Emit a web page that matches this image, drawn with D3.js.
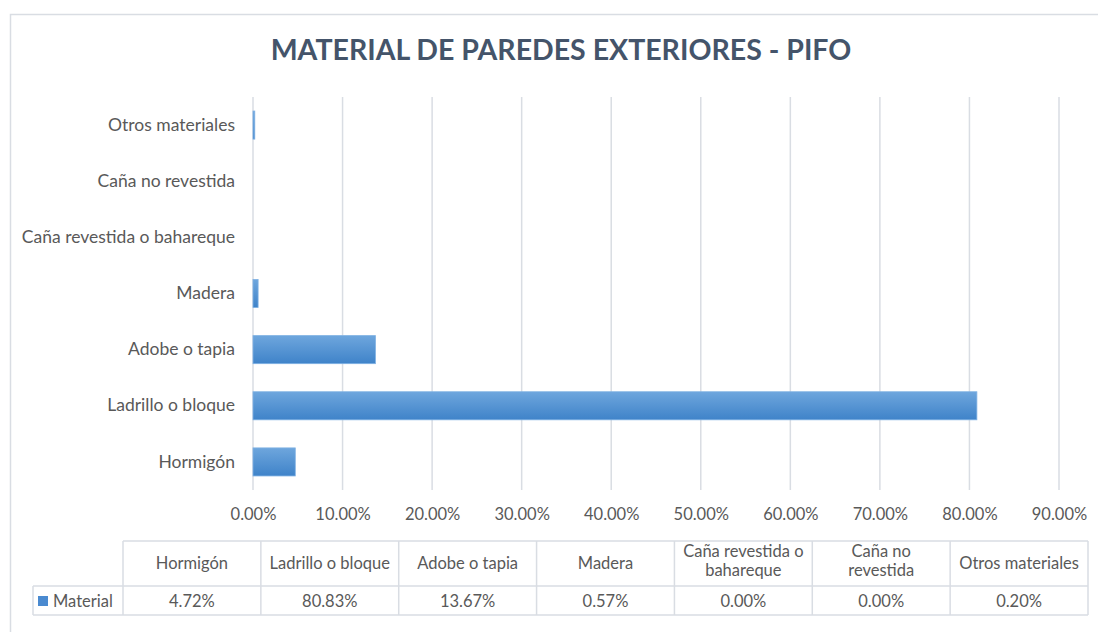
<!DOCTYPE html>
<html>
<head>
<meta charset="utf-8">
<script src="https://cdn.jsdelivr.net/npm/d3@7"></script>
<style>
  body { margin: 0; background: #fff; }
  svg { font-family: Lato, "Open Sans", sans-serif; }
</style>
</head>
<body>
<div class="chart"></div>
<script>
// Data
let categories = ["Hormigón", "Ladrillo o bloque", "Adobe o tapia", "Madera", "Caña revestida o bahareque", "Caña no revestida", "Otros materiales"];
let headerLines = [["Hormigón"], ["Ladrillo o bloque"], ["Adobe o tapia"], ["Madera"], ["Caña revestida o", "bahareque"], ["Caña no", "revestida"], ["Otros materiales"]];
let values = [4.72, 80.83, 13.67, 0.57, 0.00, 0.00, 0.20];
let xTicks = [0, 10, 20, 30, 40, 50, 60, 70, 80, 90];
let seriesName = "Material";

let svgWidth = 1098;
let svgHeight = 632;
let margin = {top: 97, left: 253, right: 1098 - 1059, bottom: 632 - 490};
let width = svgWidth - margin.left - margin.right;
let height = svgHeight - margin.top - margin.bottom;

let svg = d3.select(".chart").append("svg")
  .attr("width", svgWidth).attr("height", svgHeight);

// gradient for bars
let grad = svg.append("defs").append("linearGradient")
  .attr("id", "barGrad").attr("x1", 0).attr("y1", 0).attr("x2", 0).attr("y2", 1);
grad.append("stop").attr("offset", "0%").attr("stop-color", "#6ea6dd");
grad.append("stop").attr("offset", "100%").attr("stop-color", "#3f83c9");

// chart area border
svg.append("rect")
  .attr("x", 10.5).attr("y", 14.5)
  .attr("width", 1100).attr("height", 640)
  .attr("fill", "none").attr("stroke", "#d9dde3").attr("stroke-width", 1.5);

// title
svg.append("text")
  .attr("x", 561).attr("y", 60)
  .attr("text-anchor", "middle")
  .attr("fill", "#44546a")
  .style("font-size", "28.5px").style("font-weight", "bold")
  .text("MATERIAL DE PAREDES EXTERIORES - PIFO");

let chartGroup = svg.append("g")
  .attr("transform", `translate(${margin.left}, ${margin.top})`);

let xScale = d3.scaleLinear().domain([0, 90]).range([0, width]);
let yScale = d3.scaleBand().domain(categories.slice().reverse()).range([0, height]).paddingInner(0.5).paddingOuter(0.25);

// gridlines
chartGroup.selectAll(".grid")
  .data(xTicks)
  .enter()
  .append("line")
  .attr("x1", d => xScale(d)).attr("x2", d => xScale(d))
  .attr("y1", 0).attr("y2", height)
  .attr("stroke", "#d9dde3").attr("stroke-width", 1.5);

// x axis labels
let bottomAxis = d3.axisBottom(xScale).tickValues(xTicks).tickSize(0).tickPadding(18)
  .tickFormat(d => d.toFixed(2) + "%");
let xg = chartGroup.append("g")
  .attr("transform", `translate(0, ${height})`)
  .call(bottomAxis);
xg.select(".domain").remove();
xg.selectAll("text").attr("fill", "#595959").style("font-size", "16.5px").style("font-family", "Lato, sans-serif");

// y axis labels
let leftAxis = d3.axisLeft(yScale).tickSize(0).tickPadding(18);
let yg = chartGroup.append("g").call(leftAxis);
yg.select(".domain").remove();
yg.selectAll("text").attr("fill", "#595959").style("font-size", "17.5px").style("font-family", "Lato, sans-serif");

// bars
chartGroup.selectAll(".bar")
  .data(values)
  .enter()
  .append("rect")
  .attr("x", 0)
  .attr("y", (d, i) => yScale(categories[i]))
  .attr("width", d => xScale(d))
  .attr("height", yScale.bandwidth())
  .attr("fill", "url(#barGrad)")
  .attr("stroke", d => d > 0 ? "#7fb1e3" : "none")
  .attr("stroke-width", 0.8);

// data table
let tableLeft = 33, firstCol = 123, colW = (1088 - 123) / 7;
let rowTop = 541, headH = 45, rowH = 29;
let tbl = svg.append("g");
let lineColor = "#d9dde3";

// horizontal lines
tbl.append("line").attr("x1", firstCol).attr("x2", 1088).attr("y1", rowTop).attr("y2", rowTop).attr("stroke", lineColor).attr("stroke-width", 1.5);
tbl.append("line").attr("x1", tableLeft).attr("x2", 1088).attr("y1", rowTop + headH).attr("y2", rowTop + headH).attr("stroke", lineColor).attr("stroke-width", 1.5);
tbl.append("line").attr("x1", tableLeft).attr("x2", 1088).attr("y1", rowTop + headH + rowH).attr("y2", rowTop + headH + rowH).attr("stroke", lineColor).attr("stroke-width", 1.5);

// vertical lines
tbl.append("line").attr("x1", tableLeft).attr("x2", tableLeft).attr("y1", rowTop + headH).attr("y2", rowTop + headH + rowH).attr("stroke", lineColor).attr("stroke-width", 1.5);
tbl.selectAll(".vline")
  .data(d3.range(8))
  .enter()
  .append("line")
  .attr("x1", i => firstCol + i * colW).attr("x2", i => firstCol + i * colW)
  .attr("y1", rowTop).attr("y2", rowTop + headH + rowH)
  .attr("stroke", lineColor).attr("stroke-width", 1.5);

// header text
tbl.selectAll(".head")
  .data(headerLines)
  .enter()
  .append("text")
  .attr("x", (d, i) => firstCol + i * colW + colW / 2)
  .attr("y", d => d.length > 1 ? rowTop + 16 : rowTop + 28)
  .attr("text-anchor", "middle")
  .attr("fill", "#595959")
  .style("font-size", "16.5px")
  .each(function(d) {
    d3.select(this).selectAll("tspan").data(d).enter().append("tspan")
      .attr("x", d3.select(this).attr("x"))
      .attr("dy", (t, j) => j === 0 ? 0 : 19)
      .text(t => t);
  });

// value text
tbl.selectAll(".val")
  .data(values)
  .enter()
  .append("text")
  .attr("x", (d, i) => firstCol + i * colW + colW / 2)
  .attr("y", rowTop + headH + 21)
  .attr("text-anchor", "middle")
  .attr("fill", "#595959")
  .style("font-size", "16.5px")
  .text(d => d.toFixed(2) + "%");

// legend key
tbl.append("rect")
  .attr("x", 38).attr("y", rowTop + headH + 10)
  .attr("width", 10).attr("height", 10)
  .attr("fill", "#4a8ad0");
tbl.append("text")
  .attr("x", 53).attr("y", rowTop + headH + 21)
  .attr("fill", "#595959")
  .style("font-size", "16.5px")
  .text(seriesName);
</script>
</body>
</html>
